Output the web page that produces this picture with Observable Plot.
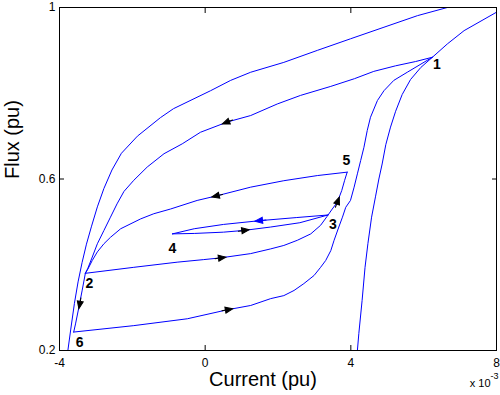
<!DOCTYPE html>
<html><head><meta charset="utf-8">
<script src="https://cdn.jsdelivr.net/npm/d3@7"></script>
<script src="https://cdn.jsdelivr.net/npm/@observablehq/plot@0.6"></script>
<style>
html,body{margin:0;padding:0;background:#fff;}
#chart svg{display:block;}
</style></head><body><div id="chart"></div>
<script>
// Axis ticks and labels
const xTicks = [-4, 0, 4, 8];
const xTickLabels = ["-4", "0", "4", "8"];
const xTopTicks = [0, 4];
const yTicks = [0.2, 0.6, 1];
const yTickLabels = ["0.2", "0.6", "1"];
const yRightTicks = [0.6];
const xTitle = "Current (pu)";
const yTitle = "Flux (pu)";
const expBase = "x 10";
const expPow = "-3";

// Outer (major) loop, descending branch  [current (x1e-3), flux]
const outerDown = [[-3.77,0.2],[-3.69,0.25],[-3.59,0.31],[-3.49,0.36],[-3.38,0.405],[-3.26,0.448],[-3.12,0.49],[-2.96,0.535],[-2.78,0.578],[-2.56,0.621],[-2.3,0.66],[-1.86,0.7],[-1.23,0.743],[-0.87,0.764],[0.15,0.806],[0.7,0.83],[1.25,0.849],[2.16,0.872],[3.08,0.9],[3.99,0.927],[4.91,0.954],[5.83,0.981],[6.65,1.0]];
// Outer (major) loop, ascending branch
const outerUp = [[4.18,0.2],[4.22,0.24],[4.31,0.317],[4.39,0.394],[4.47,0.45],[4.57,0.511],[4.68,0.56],[4.77,0.6],[4.86,0.635],[4.96,0.68],[5.09,0.721],[5.23,0.758],[5.41,0.797],[5.64,0.832],[5.92,0.86],[6.24,0.884],[6.65,0.915],[7.11,0.946],[8.0,0.989]];
// 1 -> 2
const path1to2 = [[6.24,0.884],[5.78,0.874],[5.23,0.864],[4.63,0.851],[4.1,0.834],[3.45,0.816],[2.62,0.795],[1.98,0.775],[1.25,0.748],[0.61,0.733],[-0.13,0.709],[-0.63,0.682],[-1.13,0.659],[-1.59,0.628],[-1.96,0.597],[-2.23,0.571],[-2.42,0.542],[-2.6,0.511],[-2.78,0.48],[-2.96,0.449],[-3.1,0.418],[-3.22,0.392],[-3.29,0.38]];
// 2 -> 3 -> 5
const path2to5 = [[-3.29,0.38],[-1.96,0.394],[-0.77,0.406],[-0.04,0.412],[0.42,0.416],[1.25,0.426],[1.8,0.437],[2.16,0.445],[2.53,0.457],[2.9,0.472],[3.17,0.492],[3.35,0.513],[3.49,0.53],[3.63,0.546],[3.75,0.573],[3.83,0.597],[3.9,0.616]];
// 3 -> 4 (upper) and 4 -> 3 (lower)
const path3to4 = [[3.37,0.516],[2.5,0.51],[1.52,0.503],[0.5,0.494],[-0.3,0.484],[-0.9,0.472]];
const path4to3 = [[-0.9,0.472],[-0.3,0.473],[0.5,0.476],[1.06,0.48],[1.8,0.488],[2.6,0.498],[3.37,0.516]];
// 5 -> 2 -> 6
const path5to6 = [[3.9,0.616],[3.08,0.608],[2.16,0.596],[1.25,0.581],[0.33,0.561],[-0.22,0.55],[-0.95,0.53],[-1.41,0.519],[-1.77,0.507],[-2.32,0.484],[-2.6,0.464],[-2.78,0.449],[-2.96,0.43],[-3.1,0.41],[-3.22,0.39],[-3.29,0.38],[-3.38,0.339],[-3.47,0.3],[-3.56,0.262],[-3.61,0.243]];
// 6 -> 1
const path6to1 = [[-3.61,0.243],[-1.96,0.258],[-0.49,0.274],[0.61,0.295],[1.25,0.305],[1.8,0.321],[2.16,0.328],[2.44,0.34],[2.71,0.356],[2.99,0.375],[3.17,0.394],[3.31,0.41],[3.45,0.433],[3.54,0.457],[3.67,0.488],[3.77,0.511],[3.86,0.534],[3.99,0.55],[4.09,0.581],[4.18,0.612],[4.27,0.643],[4.36,0.674],[4.45,0.713],[4.54,0.744],[4.73,0.783],[4.91,0.806],[5.18,0.83],[5.55,0.849],[6.24,0.884]];

const curves = [outerDown, outerUp, path1to2, path2to5, path3to4, path4to3, path5to6, path6to1];

// Direction arrows: position and a point further along the path
const arrowsBlack = [
  {x: 0.61, y: 0.733, tx: -0.13, ty: 0.709},
  {x: 0.33, y: 0.561, tx: -0.22, ty: 0.55},
  {x: -3.44, y: 0.31, tx: -3.51, ty: 0.279},
  {x: 0.42, y: 0.416, tx: 1.25, ty: 0.426},
  {x: 0.61, y: 0.295, tx: 1.25, ty: 0.305},
  {x: 1.06, y: 0.48, tx: 1.8, ty: 0.488},
  {x: 3.63, y: 0.546, tx: 3.75, ty: 0.573}
];
const arrowsBlue = [
  {x: 1.52, y: 0.503, tx: 0.5, ty: 0.494}
];

// Point labels
const pointNames = ["1", "2", "3", "4", "5", "6"];
const pointX = [6.36, -3.18, 3.51, -0.9, 3.88, -3.45];
const pointY = [0.867, 0.356, 0.494, 0.439, 0.643, 0.219];
const points = pointNames.map((t, i) => ({t, x: pointX[i], y: pointY[i]}));

const font = "'Liberation Sans', Arial, Helvetica, sans-serif";
const blue = "#0000ff";

const baseOpts = {
  width: 500, height: 395,
  marginLeft: 59, marginRight: 4, marginTop: 7, marginBottom: 45,
  style: {fontFamily: font, background: "#fff", color: "#000", overflow: "visible"},
  x: {domain: [-4, 8]},
  y: {domain: [0.2, 1]}
};

const arrowShape = {
  draw(ctx, l) {
    ctx.moveTo(0, 0); ctx.lineTo(0, -l + 7);
    ctx.moveTo(0, -l); ctx.lineTo(-3, -l + 7.5); ctx.lineTo(3, -l + 7.5); ctx.closePath();
  }
};

function buildMarks(angle) {
  const marks = [];
  for (const c of curves) {
    marks.push(Plot.line(c, {x: d => d[0], y: d => d[1], stroke: blue, strokeWidth: 1, curve: "linear", clip: true}));
  }
  if (angle) {
    marks.push(Plot.vector(arrowsBlack, {x: "x", y: "y", rotate: angle, length: 11, anchor: "middle", shape: arrowShape, stroke: "black", fill: "black", strokeWidth: 1, strokeLinejoin: "miter"}));
    marks.push(Plot.vector(arrowsBlue, {x: "x", y: "y", rotate: angle, length: 11, anchor: "middle", shape: arrowShape, stroke: blue, fill: blue, strokeWidth: 1, strokeLinejoin: "miter"}));
  }
  marks.push(Plot.text(points, {x: "x", y: "y", text: "t", fontSize: 14, fontWeight: "bold", fill: "black"}));
  marks.push(Plot.frame({stroke: "black", strokeWidth: 1}));
  // tick labels
  marks.push(Plot.axisX(xTicks, {anchor: "bottom", tickSize: 0, tickPadding: 8, tickFormat: (d) => xTickLabels[xTicks.indexOf(d)], fontSize: 12, label: null}));
  marks.push(Plot.axisY(yTicks, {anchor: "left", tickSize: 0, tickPadding: 4, tickFormat: (d) => yTickLabels[yTicks.indexOf(d)], fontSize: 12, label: null}));
  // inward ticks
  marks.push(Plot.axisX(xTicks, {anchor: "bottom", tickSize: 5, dy: -5, tickFormat: () => "", label: null}));
  marks.push(Plot.axisX(xTopTicks, {anchor: "top", tickSize: 5, dy: 5, tickFormat: () => "", label: null}));
  marks.push(Plot.axisY(yTicks, {anchor: "left", tickSize: 5, dx: 5, tickFormat: () => "", label: null}));
  marks.push(Plot.axisY(yRightTicks, {anchor: "right", tickSize: 5, dx: -5, tickFormat: () => "", label: null}));
  // titles
  marks.push(Plot.text([xTitle], {frameAnchor: "bottom", dx: -15, dy: 35, fontSize: 20, fill: "black"}));
  marks.push(Plot.text([yTitle], {frameAnchor: "left", dx: -47, rotate: -90, fontSize: 20, fill: "black"}));
  marks.push(Plot.text([expBase], {frameAnchor: "bottom-right", textAnchor: "end", dx: -6, dy: 36, fontSize: 11, fill: "black"}));
  marks.push(Plot.text([expPow], {frameAnchor: "bottom-right", textAnchor: "start", dx: -6, dy: 28, fontSize: 9, fill: "black"}));
  return marks;
}

const probe = Plot.plot({...baseOpts, marks: buildMarks(null)});
const sx = probe.scale("x"), sy = probe.scale("y");
const angle = d => Math.atan2(sx.apply(d.tx) - sx.apply(d.x), -(sy.apply(d.ty) - sy.apply(d.y))) * 180 / Math.PI;

const chart = Plot.plot({...baseOpts, marks: buildMarks(angle)});
document.getElementById("chart").appendChild(chart);
</script></body></html>
